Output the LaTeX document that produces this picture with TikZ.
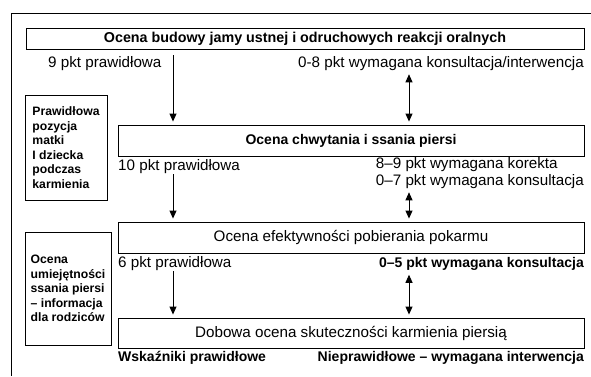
\documentclass[tikz,border=0pt]{standalone}
\usepackage{fontspec}
\setmainfont{Liberation Sans}
\newcommand\fbf{\fontsize{14}{17}\selectfont\bfseries}
\usetikzlibrary{arrows.meta}
\usetikzlibrary{calc}

\begin{document}
\begin{tikzpicture}[x=1pt, y=-1pt,
    box/.style={draw, line width=0.9pt, inner sep=0pt, minimum width=466pt, font=\fontsize{15.2}{17}\selectfont},
    side/.style={draw, line width=0.9pt, inner sep=0pt, align=left, font=\fontsize{12.2}{14.5}\selectfont\bfseries},
    lab/.style={inner sep=0pt, font=\fontsize{15.2}{17}\selectfont},
    arr/.style={-{Triangle[length=8pt,width=7pt]}, line width=0.9pt},
    darr/.style={{Triangle[length=8pt,width=7pt]}-{Triangle[length=8pt,width=7pt]}, line width=0.9pt}]
    \useasboundingbox (0,0) rectangle (591,376);
    \draw [line width=0.9pt] (591,13) -- (11,13) -- (11,376);

    \node[box, minimum width=558pt, minimum height=21pt] (budowa) at (305,38.5)
        {\fontsize{14.3}{17}\selectfont\bfseries Ocena budowy jamy ustnej i odruchowych reakcji oralnych};
    \node[box, minimum height=31pt] (chwyt) at (351,140.5) {\fbf Ocena chwytania i ssania piersi};
    \node[box, minimum height=31pt] (efekt) at (351,237.5) {Ocena efektywności pobierania pokarmu};
    \node[box, minimum height=30pt] (dobowa) at (351,333) {Dobowa ocena skuteczności karmienia piersią};

    \node[side, minimum width=82pt, minimum height=105pt] (pozycja) at (66,147.5)
        {Prawidłowa\\pozycja\\matki\\I dziecka\\podczas\\karmienia};
    \node[side, minimum width=86pt, minimum height=113pt] (info) at (68,288.5)
        {Ocena\\umiejętności\\ssania piersi\\– informacja\\dla rodziców};

    \node[lab, anchor=west] (l9) at (48,64) {9 pkt prawidłowa};
    \node[lab, anchor=east] (l08) at (584,64) {0-8 pkt wymagana konsultacja/interwencja};
    \node[lab, anchor=west] (l10) at (118,167) {10 pkt prawidłowa};
    \node[lab, anchor=east, align=left] (l89) at (584,173.5)
        {8–9 pkt wymagana korekta\\0–7 pkt wymagana konsultacja};
    \node[lab, anchor=west] (l6) at (118,264) {6 pkt prawidłowa};
    \node[lab, anchor=east] (l05) at (584,264) {\fbf 0–5 pkt wymagana konsultacja};
    \node[lab, anchor=west] (lok) at (118,358) {\fbf Wskaźniki prawidłowe};
    \node[lab, anchor=east] (lbad) at (584,358) {\fbf Nieprawidłowe – wymagana interwencja};

    \coordinate (ax) at (173,0);
    \coordinate (dx) at (409,0);
    \draw [arr, shorten <=6pt, shorten >=3pt] (budowa.south -| ax) -- (chwyt.north -| ax);
    \draw [darr, shorten <=3pt, shorten >=3pt] (l08.south -| dx) -- (chwyt.north -| dx);
    \draw [arr, shorten >=3pt] (l10.south -| ax) -- (efekt.north -| ax);
    \draw [darr, shorten <=3pt, shorten >=3pt] (l89.south -| dx) -- (efekt.north -| dx);
    \draw [arr, shorten >=3pt] (l6.south -| ax) -- (dobowa.north -| ax);
    \draw [darr, shorten <=4pt, shorten >=3pt] (l05.south -| dx) -- (dobowa.north -| dx);
\end{tikzpicture}
\end{document}
